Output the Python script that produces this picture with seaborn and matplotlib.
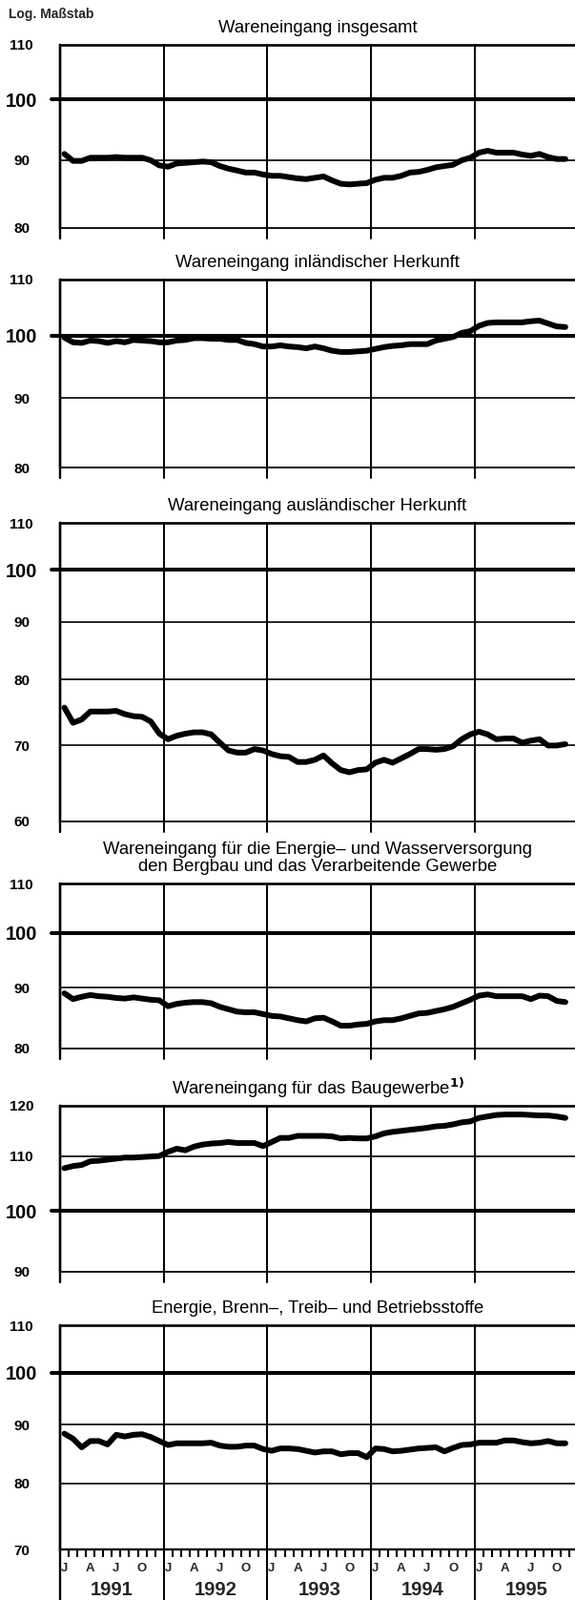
import numpy as np
import pandas as pd
import matplotlib
matplotlib.use("Agg")
import matplotlib.pyplot as plt
import matplotlib.ticker as mticker
import seaborn as sns

W, H = 603, 1677
LEFT = 63

# monthly values, January 1991 .. November 1995 (log scale)
insgesamt = [91.0, 89.9, 89.9, 90.4, 90.4, 90.4, 90.5, 90.4, 90.4, 90.4, 90.0, 89.2,
             89.0, 89.5, 89.6, 89.7, 89.8, 89.7, 89.1, 88.7, 88.4, 88.1, 88.1, 87.8,
             87.6, 87.6, 87.4, 87.2, 87.1, 87.3, 87.5, 86.9, 86.4, 86.3, 86.4, 86.5,
             87.0, 87.3, 87.3, 87.6, 88.1, 88.2, 88.5, 88.9, 89.1, 89.3, 90.0, 90.4,
             91.2, 91.5, 91.2, 91.2, 91.2, 90.9, 90.7, 91.0, 90.5, 90.2, 90.2]
inland = [99.7, 98.9, 98.8, 99.2, 99.1, 98.8, 99.1, 98.9, 99.3, 99.2, 99.1, 98.9,
          98.9, 99.2, 99.3, 99.6, 99.6, 99.5, 99.5, 99.3, 99.3, 98.8, 98.6, 98.2,
          98.2, 98.4, 98.2, 98.1, 97.9, 98.2, 97.9, 97.5, 97.3, 97.3, 97.4, 97.5,
          97.8, 98.1, 98.3, 98.4, 98.6, 98.6, 98.6, 99.2, 99.5, 99.8, 100.5, 100.8,
          101.7, 102.2, 102.3, 102.3, 102.3, 102.3, 102.5, 102.6, 102.1, 101.6, 101.5]
ausland = [75.6, 73.3, 73.8, 75.0, 75.0, 75.0, 75.1, 74.6, 74.3, 74.2, 73.5, 71.7,
           70.9, 71.4, 71.7, 71.9, 71.9, 71.6, 70.4, 69.3, 69.0, 69.0, 69.5, 69.3,
           68.8, 68.5, 68.4, 67.7, 67.7, 68.0, 68.6, 67.5, 66.6, 66.3, 66.6, 66.7,
           67.6, 68.0, 67.6, 68.2, 68.8, 69.5, 69.5, 69.4, 69.5, 69.9, 70.9, 71.6,
           72.0, 71.6, 70.9, 71.0, 71.0, 70.4, 70.7, 70.9, 70.0, 70.0, 70.2]
energie_bergbau = [89.0, 88.0, 88.4, 88.7, 88.5, 88.4, 88.2, 88.1, 88.3, 88.1, 87.9, 87.8,
                   86.8, 87.2, 87.4, 87.5, 87.5, 87.3, 86.7, 86.3, 85.9, 85.8, 85.8, 85.5,
                   85.2, 85.1, 84.8, 84.5, 84.3, 84.8, 84.9, 84.3, 83.6, 83.6, 83.8, 83.9,
                   84.3, 84.5, 84.5, 84.8, 85.2, 85.6, 85.7, 86.0, 86.3, 86.7, 87.3, 87.9,
                   88.6, 88.8, 88.5, 88.5, 88.5, 88.5, 88.0, 88.6, 88.5, 87.7, 87.5]
baugewerbe = [107.7, 108.1, 108.3, 109.0, 109.1, 109.3, 109.5, 109.7, 109.7, 109.8, 109.9, 110.0,
              110.8, 111.4, 111.1, 111.8, 112.2, 112.4, 112.5, 112.7, 112.5, 112.5, 112.5, 111.9,
              112.7, 113.5, 113.5, 113.9, 113.9, 113.9, 113.9, 113.8, 113.4, 113.5, 113.4, 113.4,
              113.8, 114.4, 114.7, 114.9, 115.1, 115.3, 115.5, 115.8, 115.9, 116.2, 116.6, 116.8,
              117.5, 117.8, 118.1, 118.2, 118.2, 118.2, 118.1, 118.0, 118.0, 117.8, 117.5]
betriebsstoffe = [88.4, 87.5, 86.0, 87.1, 87.1, 86.5, 88.2, 87.9, 88.2, 88.3, 87.8, 87.1,
                  86.4, 86.7, 86.7, 86.7, 86.7, 86.8, 86.3, 86.1, 86.1, 86.3, 86.3, 85.7,
                  85.4, 85.8, 85.8, 85.7, 85.4, 85.1, 85.3, 85.3, 84.8, 85.0, 85.0, 84.3,
                  85.8, 85.7, 85.3, 85.4, 85.6, 85.8, 85.9, 86.0, 85.3, 85.9, 86.4, 86.5,
                  86.8, 86.8, 86.8, 87.2, 87.2, 86.9, 86.7, 86.8, 87.1, 86.7, 86.7]

titles = ["Wareneingang insgesamt",
          "Wareneingang inländischer Herkunft",
          "Wareneingang ausländischer Herkunft",
          "Wareneingang für die Energie\u2013 und Wasserversorgung\n"
          "den Bergbau und das Verarbeitende Gewerbe",
          "Wareneingang für das Baugewerbe$^{\\mathbf{1)}}$",
          "Energie, Brenn\u2013, Treib\u2013 und Betriebsstoffe"]
series = [insgesamt, inland, ausland, energie_bergbau, baugewerbe, betriebsstoffe]
yticks = [[80, 90, 100, 110],
          [80, 90, 100, 110],
          [60, 70, 80, 90, 100, 110],
          [80, 90, 100, 110],
          [90, 100, 110, 120],
          [70, 80, 90, 100, 110]]
years = ["1991", "1992", "1993", "1994", "1995"]
month_letters = ["J", "A", "J", "O"]

# panel extents in pixels (top spine, bottom spine)
panel_px = [(47, 239), (293, 490), (548, 861), (926, 1099), (1159, 1333), (1389, 1624)]
title_pad = [9.5, 9.5, 9.5, 9.5, 9.0, 9.5]

sns.set_theme(style="white")
plt.rcParams["font.family"] = ["Liberation Sans", "DejaVu Sans"]

fig = plt.figure(figsize=(W / 100, H / 100), dpi=100)
fig.text(9 / W, 1 - 15 / H, "Log. Maßstab", fontsize=10, fontweight="bold", va="center")

n = len(insgesamt)
xmax = (W - LEFT) / 108.7 * 12
width_px = W - LEFT

for k in range(6):
    top, bot = panel_px[k]
    ax = fig.add_axes([LEFT / W, 1 - bot / H, width_px / W, (bot - top) / H])
    df = pd.DataFrame({"monat": np.arange(n) + 0.5, "wert": series[k]})
    sns.lineplot(data=df, x="monat", y="wert", ax=ax, color="black", lw=4.3,
                 solid_capstyle="round", solid_joinstyle="round", zorder=5)
    ticks = yticks[k]
    ax.set_yscale("log")
    ax.set_ylim(ticks[0], ticks[-1])
    ax.set_xlim(0, xmax)
    ax.yaxis.set_major_locator(mticker.FixedLocator(ticks))
    ax.yaxis.set_minor_locator(mticker.NullLocator())
    ax.set_yticklabels([str(t) for t in ticks])
    ax.tick_params(axis="y", length=0, pad=29)
    for lab, t in zip(ax.get_yticklabels(), ticks):
        lab.set_fontweight("bold")
        lab.set_fontsize(14.5 if t == 100 else 11)
        lab.set_horizontalalignment("center")
        lab.set_color("black")
    ax.set_xlabel("")
    ax.set_ylabel("")

    for t in ticks[1:-1]:
        if t == 100:
            ax.axhline(100, xmin=-9 / width_px, xmax=1, lw=2.9, color="black",
                       clip_on=False, zorder=3)
        else:
            ax.axhline(t, lw=1.2, color="black", zorder=2)

    last = k == 5
    ext = (H - bot) / (bot - top) if last else 11 / (bot - top)
    for x in range(0, n, 12):
        ax.axvline(x, ymin=-ext, ymax=1, lw=1.4 if x else 1.7, color="black",
                   clip_on=False, zorder=2)

    for side in ["top", "bottom", "left"]:
        ax.spines[side].set_color("black")
    ax.spines["top"].set_linewidth(1.9)
    ax.spines["bottom"].set_linewidth(1.7 if last else 1.3)
    ax.spines["left"].set_linewidth(1.7)
    ax.spines["right"].set_visible(False)

    ax.set_title(titles[k], fontsize=13.3, pad=title_pad[k], color="black",
                 linespacing=1.05)

    if last:
        centers = [12 * y + m + 0.5 for y in range(5) for m in (0, 3, 6, 9)]
        ax.set_xticks(centers, labels=month_letters * 5)
        ax.xaxis.set_minor_locator(mticker.FixedLocator(np.arange(1, 60)))
        ax.tick_params(axis="x", which="major", length=0, pad=10, labelsize=9.5)
        ax.tick_params(axis="x", which="minor", length=5.5, width=1.5, direction="out",
                       color="black", bottom=True)
        for lab in ax.get_xticklabels():
            lab.set_fontweight("bold")
        sec = ax.secondary_xaxis("bottom")
        sec.set_xticks([12 * y + 6 for y in range(5)], labels=years)
        sec.tick_params(length=0, pad=23.5, labelsize=14.5)
        sec.spines["bottom"].set_visible(False)
        for lab in sec.get_xticklabels():
            lab.set_fontweight("bold")
    else:
        ax.set_xticks([])

fig.savefig("out.png", dpi=100)
